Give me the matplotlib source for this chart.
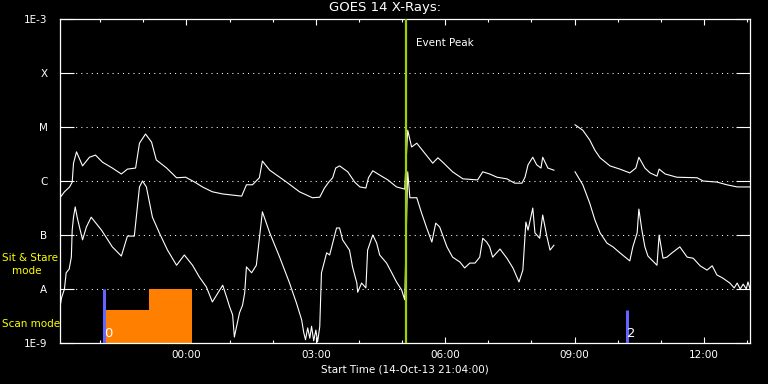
import numpy as np
import matplotlib
matplotlib.use("Agg")
from matplotlib import pyplot as plt
from matplotlib.ticker import FixedLocator, FuncFormatter

# time = hours after 00:00 on 15-Oct-13, flux = log10(W/m^2)
long1_t = [-2.925, -2.83, -2.71, -2.65, -2.62, -2.55, -2.41, -2.25, -2.11, -1.95,
           -1.72, -1.51, -1.37, -1.18, -1.09, -0.95, -0.81, -0.70, -0.46, -0.23,
           -0.02, 0.19, 0.37, 0.60, 0.84, 1.28, 1.39, 1.53, 1.69, 1.76,
           1.93, 2.32, 2.62, 2.92, 3.09, 3.20, 3.30, 3.39, 3.46, 3.55,
           3.74, 3.90, 4.02, 4.16, 4.22, 4.32, 4.48, 4.67, 4.87, 5.06,
           5.13, 5.22, 5.34, 5.52, 5.71, 5.83, 5.94, 6.17, 6.41, 6.75,
           6.87, 7.03, 7.20, 7.43, 7.61, 7.78, 7.85, 7.92, 8.03, 8.12,
           8.22, 8.26, 8.38, 8.52]
long1_f = [-6.30, -6.20, -6.11, -6.02, -5.67, -5.46, -5.72, -5.56, -5.52, -5.65,
           -5.76, -5.87, -5.78, -5.76, -5.30, -5.13, -5.28, -5.61, -5.76, -5.94,
           -5.93, -6.02, -6.11, -6.20, -6.24, -6.28, -6.07, -6.07, -5.94, -5.63,
           -5.80, -6.02, -6.20, -6.31, -6.30, -6.13, -6.02, -5.94, -5.76, -5.72,
           -5.83, -6.02, -6.11, -6.13, -5.94, -5.81, -5.89, -5.98, -6.11, -6.15,
           -5.06, -5.37, -5.30, -5.48, -5.67, -5.57, -5.65, -5.83, -5.96, -5.98,
           -5.83, -5.87, -5.93, -5.96, -6.04, -6.04, -5.93, -5.70, -5.56, -5.70,
           -5.76, -5.56, -5.76, -5.80]

long2_t = [9.01, 9.19, 9.35, 9.47, 9.59, 9.82, 10.05, 10.28, 10.42, 10.49,
           10.63, 10.75, 10.91, 10.96, 11.10, 11.37, 11.84, 11.98, 12.30, 12.53,
           12.77, 13.07]
long2_f = [-4.96, -5.06, -5.24, -5.43, -5.57, -5.72, -5.78, -5.85, -5.76, -5.56,
           -5.76, -5.85, -5.91, -5.78, -5.87, -5.93, -5.94, -6.00, -6.02, -6.07,
           -6.11, -6.11]

short1_t = [-2.925, -2.90, -2.83, -2.79, -2.72, -2.67, -2.65, -2.62, -2.58, -2.53,
            -2.41, -2.32, -2.21, -1.97, -1.72, -1.51, -1.37, -1.21, -1.09, -1.02,
            -0.93, -0.79, -0.63, -0.44, -0.23, -0.05, 0.14, 0.30, 0.46, 0.60,
            0.77, 0.84, 0.93, 1.00, 1.07, 1.11, 1.16, 1.23, 1.30, 1.35,
            1.39, 1.51, 1.62, 1.76, 1.93, 2.16, 2.39, 2.55, 2.67, 2.72,
            2.76, 2.81, 2.86, 2.90, 2.95, 3.00, 3.04, 3.09, 3.13, 3.25,
            3.32, 3.39, 3.48, 3.55, 3.62, 3.78, 3.85, 3.95, 3.97, 4.06,
            4.16, 4.20, 4.32, 4.41, 4.48, 4.64, 4.76, 4.87, 4.99, 5.06,
            5.13, 5.18, 5.34, 5.45, 5.57, 5.69, 5.78, 5.87, 6.04, 6.17,
            6.34, 6.45, 6.57, 6.69, 6.80, 6.87, 6.96, 7.03, 7.10, 7.27,
            7.43, 7.57, 7.71, 7.80, 7.87, 7.92, 8.03, 8.08, 8.19, 8.26,
            8.36, 8.43, 8.52]
short1_f = [-8.30, -8.17, -8.00, -7.70, -7.63, -7.41, -6.91, -6.67, -6.48, -6.69,
            -7.09, -6.85, -6.67, -6.91, -7.22, -7.39, -7.02, -7.02, -6.11, -6.00,
            -6.11, -6.67, -6.96, -7.28, -7.56, -7.37, -7.56, -7.78, -7.96, -8.24,
            -8.02, -7.93, -8.15, -8.33, -8.48, -8.89, -8.70, -8.44, -8.30, -8.07,
            -7.59, -7.70, -7.56, -6.57, -6.96, -7.41, -7.89, -8.26, -8.57, -8.81,
            -8.94, -8.72, -8.91, -8.69, -8.96, -8.76, -8.98, -8.70, -7.70, -7.33,
            -7.37, -7.15, -6.87, -6.87, -7.09, -7.28, -7.59, -7.89, -8.06, -7.89,
            -7.98, -7.28, -7.00, -7.15, -7.37, -7.52, -7.70, -7.87, -8.02, -8.20,
            -5.83, -6.31, -6.31, -6.59, -6.87, -7.13, -6.78, -6.85, -7.22, -7.41,
            -7.50, -7.61, -7.52, -7.52, -7.41, -7.06, -7.13, -7.22, -7.41, -7.26,
            -7.43, -7.61, -7.87, -7.65, -6.76, -6.91, -6.50, -6.96, -7.06, -6.63,
            -7.04, -7.28, -7.19]

short2_t = [9.01, 9.19, 9.35, 9.47, 9.59, 9.75, 9.89, 10.05, 10.28, 10.35,
            10.45, 10.49, 10.56, 10.63, 10.70, 10.91, 10.96, 11.05, 11.14, 11.26,
            11.44, 11.61, 11.75, 11.91, 12.07, 12.19, 12.30, 12.44, 12.60, 12.70,
            12.77, 12.84, 12.91, 12.98, 13.02, 13.07]
short2_f = [-5.83, -6.07, -6.41, -6.72, -6.96, -7.15, -7.22, -7.33, -7.48, -7.22,
            -6.96, -6.52, -6.91, -7.22, -7.39, -7.56, -7.00, -7.43, -7.41, -7.33,
            -7.22, -7.41, -7.43, -7.57, -7.65, -7.57, -7.74, -7.80, -7.89, -7.98,
            -7.89, -8.00, -7.91, -8.00, -7.87, -8.00]

t_start, t_end = -2.933, 13.067   # 21:04 -> 13:04
event_peak = 5.08

# scan mode blocks: start, end, top (log10)
scan_start = [-1.90, -0.88]
scan_end = [-0.88, 0.13]
scan_top = [-8.39, -8.0]

# pointing markers
mark_t = [-1.92, 10.22]
mark_top = [-8.0, -8.39]
mark_lbl = ["0", "2"]

ytick_vals = [-9, -8, -7, -6, -5, -4, -3]
ytick_lbls = ["1E-9", "A", "B", "C", "M", "X", "1E-3"]

plt.rcParams["font.family"] = "DejaVu Sans"
fig = plt.figure(figsize=(7.68, 3.84), dpi=100, facecolor="black")
ax = fig.add_axes([60 / 768, 41 / 384, 690 / 768, 324 / 384])
ax.set_facecolor("black")
ax.set_yscale("log")
ax.set_xlim(t_start, t_end)
ax.set_ylim(1e-9, 1e-3)

for v in ytick_vals[1:-1]:
    ax.axhline(10.0 ** v, color="white", lw=0.75, ls=(0, (1, 4)), zorder=1)

for s, e, top in zip(scan_start, scan_end, scan_top):
    ax.bar(s, 10.0 ** top - 1e-9, width=e - s, bottom=1e-9, align="edge",
           color="#ff8000", zorder=2)
for t, top, lb in zip(mark_t, mark_top, mark_lbl):
    ax.vlines(t, 1e-9, 10.0 ** top, color="#6464ff", lw=2.2, zorder=3)
    ax.text(t + 0.0, 10.0 ** -8.82, lb, color="white", fontsize=9.5,
            ha="left", va="center", zorder=4)

for tt, ff in [(long1_t, long1_f), (long2_t, long2_f),
               (short1_t, short1_f), (short2_t, short2_f)]:
    ax.plot(tt, 10.0 ** np.array(ff), color="white", lw=0.8, zorder=4)

ax.axvline(event_peak, color="#a0d000", lw=1.6, zorder=5)
ax.text(event_peak + 0.25, 10.0 ** -3.45, "Event Peak", color="white",
        fontsize=7.5, ha="left", va="center")

ax.yaxis.set_major_locator(FixedLocator([10.0 ** v for v in ytick_vals]))
ax.yaxis.set_minor_locator(FixedLocator([]))
ax.set_yticklabels(ytick_lbls)
ax.xaxis.set_major_locator(FixedLocator([0, 3, 6, 9, 12]))
ax.xaxis.set_minor_locator(FixedLocator(range(-2, 14)))
ax.xaxis.set_major_formatter(FuncFormatter(lambda v, p: "%02d:00" % (int(round(v)) % 24)))

ax.tick_params(axis="y", which="major", direction="in", length=10, width=0.8,
               colors="white", labelsize=7.5, pad=9, right=True)
ax.tick_params(axis="x", which="major", direction="in", length=4.5, width=0.8,
               colors="white", labelsize=7.5, pad=5, top=True)
ax.tick_params(axis="x", which="minor", direction="in", length=2.5, width=0.8,
               colors="white", top=True)
for sp in ax.spines.values():
    sp.set_color("white")
    sp.set_linewidth(0.9)

fig.text(385 / 768, 1 - 8 / 384, "GOES 14 X-Rays:", color="white", fontsize=9.5,
         ha="center", va="center")
fig.text(405 / 768, 1 - 370 / 384, "Start Time (14-Oct-13 21:04:00)", color="white",
         fontsize=7.5, ha="center", va="center")
fig.text(2 / 768, 1 - 258 / 384, "Sit & Stare", color="yellow", fontsize=7.5,
         ha="left", va="center")
fig.text(12 / 768, 1 - 271 / 384, "mode", color="yellow", fontsize=7.5,
         ha="left", va="center")
fig.text(2 / 768, 1 - 324 / 384, "Scan mode", color="yellow", fontsize=7.5,
         ha="left", va="center")

fig.savefig("out.png", dpi=100, facecolor="black")
